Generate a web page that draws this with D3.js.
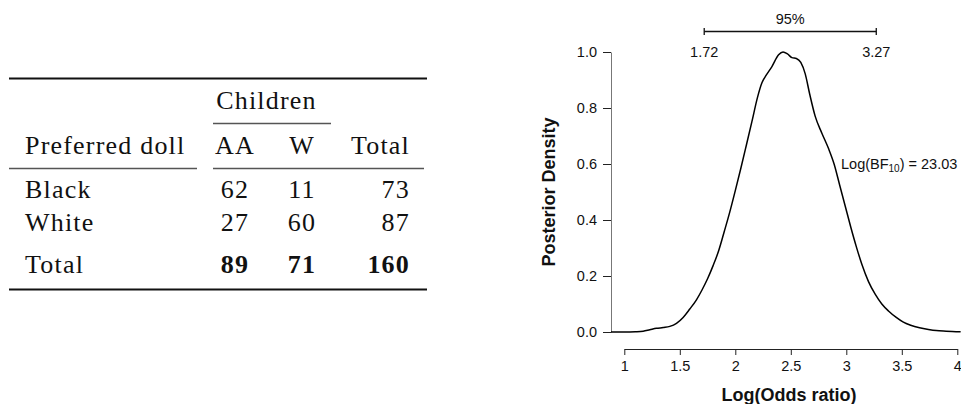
<!DOCTYPE html>
<html>
<head>
<meta charset="utf-8">
<script src="https://cdn.jsdelivr.net/npm/d3@7"></script>
<style>
  html, body { margin: 0; padding: 0; background: #fff; }
  svg { display: block; }
</style>
</head>
<body>
<script>
// contingency table
const rowLabels = ['Black', 'White'];
const colLabels = ['AA', 'W'];
const counts = [[62, 11], [27, 60]];
const rowTotals = [73, 87];
const colTotals = [89, 71];
const grandTotal = 160;

// posterior density of the log odds ratio
const densityX = [0.88, 1.0, 1.1, 1.17, 1.23, 1.29, 1.35, 1.41, 1.47, 1.53, 1.59, 1.65, 1.7, 1.75, 1.8,
  1.85, 1.9, 1.95, 2.0, 2.05, 2.1, 2.15, 2.2, 2.24, 2.28, 2.33, 2.39, 2.43, 2.47, 2.51, 2.55, 2.59,
  2.63, 2.67, 2.72, 2.78, 2.84, 2.89, 2.94, 2.99, 3.04, 3.09, 3.14, 3.2, 3.26, 3.32, 3.38, 3.45,
  3.51, 3.58, 3.66, 3.74, 3.81, 3.9, 4.03];
const densityY = [0, 0, 0.001, 0.003, 0.008, 0.013, 0.016, 0.02, 0.031, 0.052, 0.082, 0.115, 0.15, 0.19, 0.237,
  0.29, 0.358, 0.428, 0.505, 0.585, 0.668, 0.752, 0.838, 0.89, 0.918, 0.948, 0.99, 1.0, 0.993, 0.98, 0.977, 0.963,
  0.922, 0.85, 0.77, 0.71, 0.655, 0.6, 0.525, 0.45, 0.375, 0.305, 0.242, 0.18, 0.135, 0.1, 0.075, 0.052,
  0.036, 0.024, 0.015, 0.009, 0.005, 0.003, 0.001];
const xTicks = [1, 1.5, 2, 2.5, 3, 3.5, 4];
const yTicks = [0, 0.2, 0.4, 0.6, 0.8, 1.0];
const ciLevel = '95%';
const ciLower = 1.72;
const ciUpper = 3.27;
const logBF10 = '23.03';

const width = 961;
const height = 404;

const svg = d3.select('body').append('svg')
  .attr('width', width)
  .attr('height', height)
  .attr('viewBox', `0 0 ${width} ${height}`);

// ---------- table ----------
const serif = '"Liberation Serif", "DejaVu Serif", serif';
const table = svg.append('g')
  .attr('font-family', serif)
  .attr('font-size', 26)
  .attr('letter-spacing', 1.2)
  .attr('fill', '#111');

const colX = d3.scaleOrdinal()
  .domain(['label', 'AA', 'W', 'Total'])
  .range([25, 235, 302, 410]);
const rowY = d3.scaleOrdinal()
  .domain(['header', 'Black', 'White', 'Total'])
  .range([154, 198, 231, 273]);

const rule = (x1, x2, y, w, c) => table.append('line')
  .attr('x1', x1).attr('x2', x2).attr('y1', y).attr('y2', y)
  .attr('stroke', c).attr('stroke-width', w);

rule(9, 427, 78.5, 2, '#111');
rule(213, 331, 123.5, 1.3, '#555');
rule(9, 197, 168.5, 1.3, '#555');
rule(213, 424, 168.5, 1.3, '#555');
rule(9, 427, 289.5, 2, '#111');

table.append('text')
  .attr('x', (colX('AA') + colX('W')) / 2 - 2)
  .attr('y', 109)
  .attr('text-anchor', 'middle')
  .text('Children');

table.append('text')
  .attr('x', colX('label')).attr('y', rowY('header'))
  .text('Preferred doll');
table.selectAll('.colhead')
  .data(colLabels)
  .enter().append('text')
  .attr('x', (d) => colX(d)).attr('y', rowY('header'))
  .attr('text-anchor', 'middle')
  .text((d) => d);
table.append('text')
  .attr('x', colX('Total')).attr('y', rowY('header'))
  .attr('text-anchor', 'end')
  .text('Total');

rowLabels.forEach((r, i) => {
  table.append('text').attr('x', colX('label')).attr('y', rowY(r)).text(r);
  counts[i].forEach((v, j) => {
    table.append('text')
      .attr('x', colX(colLabels[j])).attr('y', rowY(r))
      .attr('text-anchor', 'middle')
      .text(v);
  });
  table.append('text')
    .attr('x', colX('Total')).attr('y', rowY(r))
    .attr('text-anchor', 'end')
    .text(rowTotals[i]);
});

table.append('text').attr('x', colX('label')).attr('y', rowY('Total')).text('Total');
colTotals.forEach((v, j) => {
  table.append('text')
    .attr('x', colX(colLabels[j])).attr('y', rowY('Total'))
    .attr('text-anchor', 'middle')
    .attr('font-weight', 'bold')
    .text(v);
});
table.append('text')
  .attr('x', colX('Total')).attr('y', rowY('Total'))
  .attr('text-anchor', 'end')
  .attr('font-weight', 'bold')
  .text(grandTotal);

// ---------- density plot ----------
const sans = '"Liberation Sans", Arial, Helvetica, sans-serif';
const labelSize = 14.5;
const x = d3.scaleLinear().domain([1, 4]).range([624.3, 957.3]);
const y = d3.scaleLinear().domain([0, 1]).range([332, 52]);

const plot = svg.append('g').attr('font-family', sans);

const xAxis = plot.append('g')
  .attr('transform', 'translate(0,349)')
  .call(d3.axisBottom(x)
    .tickValues(xTicks)
    .tickFormat((d) => d)
    .tickSize(6)
    .tickSizeOuter(0)
    .tickPadding(6));
xAxis.select('.domain').attr('stroke', '#222');
xAxis.selectAll('.tick line').attr('stroke', '#222');
xAxis.selectAll('.tick text')
  .attr('font-family', sans)
  .attr('font-size', labelSize)
  .attr('fill', '#111');

const yAxis = plot.append('g')
  .attr('transform', 'translate(611,0)')
  .call(d3.axisLeft(y)
    .tickValues(yTicks)
    .tickFormat(d3.format('.1f'))
    .tickSize(8)
    .tickSizeOuter(0)
    .tickPadding(6));
yAxis.select('.domain').attr('stroke', '#777');
yAxis.selectAll('.tick line').attr('stroke', '#222');
yAxis.selectAll('.tick text')
  .attr('font-family', sans)
  .attr('font-size', labelSize)
  .attr('fill', '#111');

const line = d3.line()
  .x((d) => x(d[0]))
  .y((d) => y(d[1]))
  .curve(d3.curveMonotoneX);

plot.append('path')
  .datum(d3.zip(densityX, densityY))
  .attr('fill', 'none')
  .attr('stroke', '#000')
  .attr('stroke-width', 1.5)
  .attr('stroke-linejoin', 'round')
  .attr('d', line);

// credible interval
const ciY = 31.5;
plot.append('line')
  .attr('x1', x(ciLower)).attr('x2', x(ciUpper))
  .attr('y1', ciY).attr('y2', ciY)
  .attr('stroke', '#111').attr('stroke-width', 1.3);
[ciLower, ciUpper].forEach((v) => {
  plot.append('line')
    .attr('x1', x(v)).attr('x2', x(v))
    .attr('y1', ciY - 3.5).attr('y2', ciY + 3.5)
    .attr('stroke', '#111').attr('stroke-width', 1.3);
  plot.append('text')
    .attr('x', x(v)).attr('y', 57)
    .attr('text-anchor', 'middle')
    .attr('font-size', labelSize)
    .attr('fill', '#111')
    .text(d3.format('.2f')(v));
});
plot.append('text')
  .attr('x', (x(ciLower) + x(ciUpper)) / 2).attr('y', 24)
  .attr('text-anchor', 'middle')
  .attr('font-size', labelSize)
  .attr('fill', '#111')
  .text(ciLevel);

// Bayes factor label
const bf = plot.append('text')
  .attr('x', 841).attr('y', 169)
  .attr('font-size', labelSize)
  .attr('fill', '#111');
bf.append('tspan').text('Log(BF');
bf.append('tspan').attr('font-size', 10).attr('dy', 3).text('10');
bf.append('tspan').attr('dy', -3).text(') = ' + logBF10);

// axis titles
plot.append('text')
  .attr('x', 789).attr('y', 401)
  .attr('text-anchor', 'middle')
  .attr('font-size', 18)
  .attr('font-weight', 'bold')
  .attr('fill', '#111')
  .text('Log(Odds ratio)');

plot.append('text')
  .attr('transform', 'translate(555,192) rotate(-90)')
  .attr('text-anchor', 'middle')
  .attr('font-size', 18)
  .attr('font-weight', 'bold')
  .attr('fill', '#111')
  .text('Posterior Density');
</script>
</body>
</html>
